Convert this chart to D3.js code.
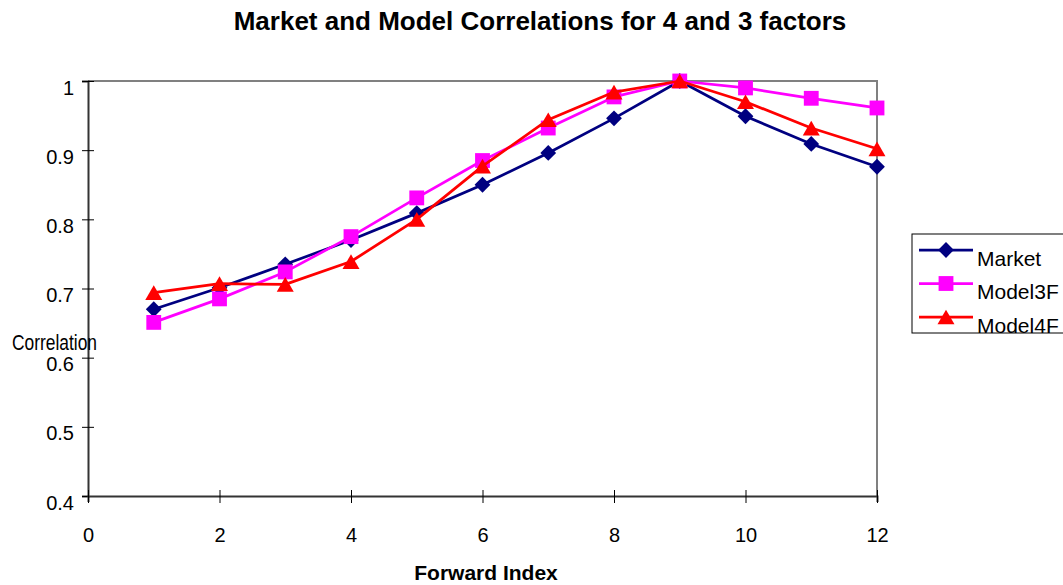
<!DOCTYPE html>
<html>
<head>
<meta charset="utf-8">
<script src="https://cdn.jsdelivr.net/npm/d3@7"></script>
<style>
  html, body { margin: 0; padding: 0; background: #fff; }
  svg { display: block; }
  text { font-family: Arial, "Liberation Sans", Helvetica, sans-serif; }
</style>
</head>
<body>
<svg id="chart" width="1063" height="585"></svg>
<script>
// Forward indices and correlation values per series
const forwardIndex = [1, 2, 3, 4, 5, 6, 7, 8, 9, 10, 11, 12];
const market  = [0.670, 0.701, 0.735, 0.770, 0.809, 0.850, 0.896, 0.946, 1.000, 0.949, 0.909, 0.876];
const model3F = [0.651, 0.685, 0.724, 0.775, 0.831, 0.885, 0.932, 0.977, 1.000, 0.990, 0.975, 0.961];
const model4F = [0.694, 0.707, 0.706, 0.739, 0.800, 0.877, 0.944, 0.984, 1.000, 0.970, 0.932, 0.902];
const seriesNames = ["Market", "Model3F", "Model4F"];
const xTicks = [0, 2, 4, 6, 8, 10, 12];
const yTicks = [0.4, 0.5, 0.6, 0.7, 0.8, 0.9, 1.0];

const svg = d3.select("#chart");
const plot = { left: 88, right: 877, top: 81, bottom: 496 };

const x = d3.scaleLinear().domain([0, 12]).range([plot.left, plot.right]);
const y = d3.scaleLinear().domain([0.4, 1.0]).range([plot.bottom, plot.top]);

// Excel-style triangle centred on its bounding box
const triangleBox = {
  draw(ctx, size) {
    const s = Math.sqrt(size * 4 / Math.sqrt(3));
    const h = s * Math.sqrt(3) / 2;
    ctx.moveTo(0, -h / 2);
    ctx.lineTo(s / 2, h / 2);
    ctx.lineTo(-s / 2, h / 2);
    ctx.closePath();
  }
};

const series = [
  { name: seriesNames[0], values: market,  color: "#000080", symbol: d3.symbolSquare, size: 125, rotate: 45 },
  { name: seriesNames[1], values: model3F, color: "#FF00FF", symbol: d3.symbolSquare, size: 220, rotate: 0 },
  { name: seriesNames[2], values: model4F, color: "#FF0000", symbol: triangleBox,     size: 125, rotate: 0 }
];

// Title
svg.append("text")
  .attr("x", 540).attr("y", 30)
  .attr("text-anchor", "middle")
  .attr("font-size", 26).attr("font-weight", "bold")
  .text("Market and Model Correlations for 4 and 3 factors");

// Plot-area border (top and right)
svg.append("path")
  .attr("d", `M${plot.left},${plot.top}H${plot.right}V${plot.bottom}`)
  .attr("fill", "none").attr("stroke", "#808080").attr("stroke-width", 2);

// Y axis
const yAxis = svg.append("g")
  .attr("transform", `translate(${plot.left},0)`)
  .call(d3.axisLeft(y).tickValues(yTicks).tickFormat(d => d === 1 ? "1" : d3.format(".1f")(d)).tickSize(6).tickPadding(0));
yAxis.select(".domain").attr("stroke", "#333").attr("stroke-width", 2);
yAxis.selectAll(".tick line").attr("x1", -6).attr("x2", 6).attr("stroke", "#000");
yAxis.selectAll(".tick text")
  .attr("x", -14).attr("dy", "0.95em").attr("y", -6)
  .attr("font-size", 20).attr("font-family", "Arial, 'Liberation Sans', sans-serif").attr("fill", "#000");

// X axis
const xAxis = svg.append("g")
  .attr("transform", `translate(0,${plot.bottom})`)
  .call(d3.axisBottom(x).tickValues(xTicks).tickFormat(d3.format("d")).tickSize(6).tickPadding(0));
xAxis.select(".domain").attr("stroke", "#333").attr("stroke-width", 2);
xAxis.selectAll(".tick line").attr("y1", -6).attr("y2", 7).attr("stroke", "#000");
xAxis.selectAll(".tick text")
  .attr("y", 46).attr("dy", 0)
  .attr("font-size", 20).attr("font-family", "Arial, 'Liberation Sans', sans-serif").attr("fill", "#000");

// Axis titles
svg.append("text")
  .attr("x", 486).attr("y", 580)
  .attr("text-anchor", "middle")
  .attr("font-size", 21).attr("font-weight", "bold")
  .text("Forward Index");

svg.append("text")
  .attr("x", 12).attr("y", 350)
  .attr("font-size", 22)
  .attr("font-family", "'Liberation Sans Narrow', 'DejaVu Sans Condensed', 'Arial Narrow', sans-serif")
  .attr("textLength", 85).attr("lengthAdjust", "spacingAndGlyphs")
  .text("Correlation");

// Series lines and markers
const line = d3.line().x((d, i) => x(forwardIndex[i])).y(d => y(d));

series.forEach(s => {
  const g = svg.append("g");
  g.append("path")
    .datum(s.values)
    .attr("d", line)
    .attr("fill", "none")
    .attr("stroke", s.color)
    .attr("stroke-width", 2.75)
    .attr("stroke-linejoin", "round");
  g.selectAll("path.marker")
    .data(s.values)
    .join("path")
    .attr("class", "marker")
    .attr("d", d3.symbol(s.symbol, s.size))
    .attr("transform", (d, i) => `translate(${x(forwardIndex[i])},${y(d)}) rotate(${s.rotate})`)
    .attr("fill", s.color);
});

// Legend
const legend = svg.append("g");
legend.append("rect")
  .attr("x", 912).attr("y", 234).attr("width", 170).attr("height", 99)
  .attr("fill", "#fff").attr("stroke", "#000").attr("stroke-width", 1);

const legendY = d3.scalePoint().domain(seriesNames).range([250, 317]);
series.forEach(s => {
  const ly = legendY(s.name);
  legend.append("line")
    .attr("x1", 919).attr("x2", 973).attr("y1", ly).attr("y2", ly)
    .attr("stroke", s.color).attr("stroke-width", 2.75);
  legend.append("path")
    .attr("d", d3.symbol(s.symbol, s.size))
    .attr("transform", `translate(946,${ly}) rotate(${s.rotate})`)
    .attr("fill", s.color);
  legend.append("text")
    .attr("x", 977).attr("y", ly + 15.5)
    .attr("font-size", 21)
    .text(s.name);
});
</script>
</body>
</html>
